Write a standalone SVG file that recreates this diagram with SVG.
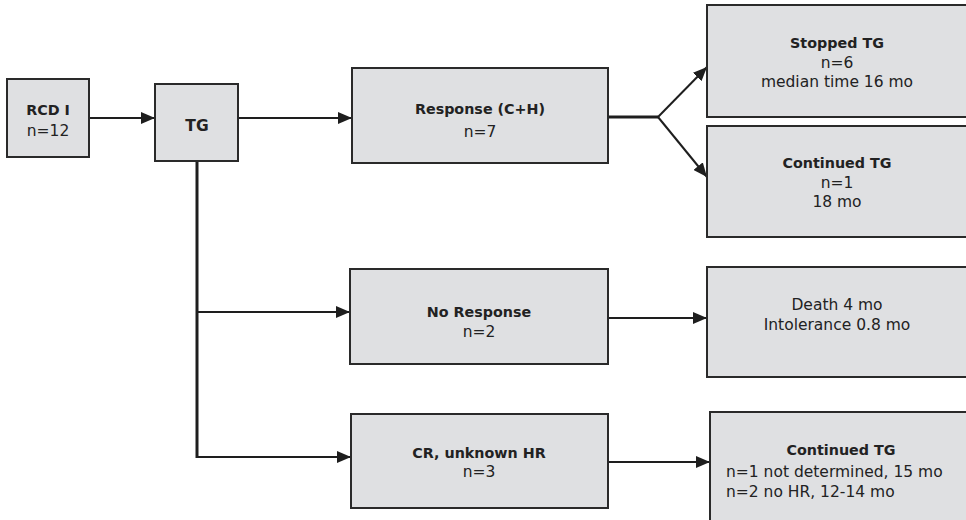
<svg xmlns="http://www.w3.org/2000/svg" width="966" height="520" viewBox="0 0 966 520">
<defs>
<marker id="ah" markerUnits="userSpaceOnUse" markerWidth="14" markerHeight="12" refX="14" refY="6" orient="auto">
<path d="M0,0 L14,6 L0,12 Z" fill="#1e1e1e"/>
</marker>
<style>
.box{fill:#dfe0e2;stroke:#2a2a2a;stroke-width:2}
.t{font-family:"DejaVu Sans",Verdana,sans-serif;font-size:15.5px;fill:#222;text-anchor:middle}
.b{font-weight:bold;font-size:14.3px}
.l{text-anchor:start}
.c{fill:none;stroke:#1e1e1e;stroke-width:2}
</style>
</defs>
<rect width="966" height="520" fill="#fff"/>
<g id="connectors">
<line class="c" x1="89" y1="118" x2="155" y2="118" marker-end="url(#ah)"/>
<line class="c" x1="238" y1="118" x2="352" y2="118" marker-end="url(#ah)"/>
<line class="c" x1="197" y1="161" x2="197" y2="458" style="stroke-width:3"/>
<line class="c" x1="196" y1="312" x2="350" y2="312" marker-end="url(#ah)"/>
<line class="c" x1="196" y1="457" x2="351" y2="457" marker-end="url(#ah)"/>
<line class="c" x1="608" y1="117" x2="658" y2="117" style="stroke-width:3"/>
<line class="c" x1="658" y1="117" x2="707" y2="67" marker-end="url(#ah)"/>
<line class="c" x1="658" y1="117" x2="707" y2="177" marker-end="url(#ah)"/>
<line class="c" x1="608" y1="318" x2="707" y2="318" marker-end="url(#ah)"/>
<line class="c" x1="608" y1="462" x2="710" y2="462" marker-end="url(#ah)"/>
</g>
<g id="rcd">
<rect class="box" x="7" y="79" width="82" height="78"/>
<text class="t b" x="48" y="115">RCD I</text>
<text class="t" x="48" y="136">n=12</text>
</g>
<g id="tg">
<rect class="box" x="155" y="84" width="83" height="77"/>
<text class="t b" x="197" y="131" style="font-size:15.5px">TG</text>
</g>
<g id="response">
<rect class="box" x="352" y="68" width="256" height="95"/>
<text class="t b" x="480" y="114">Response (C+H)</text>
<text class="t" x="480" y="137">n=7</text>
</g>
<g id="stopped">
<rect class="box" x="707" y="5" width="270" height="112"/>
<text class="t b" x="837" y="48">Stopped TG</text>
<text class="t" x="837" y="68">n=6</text>
<text class="t" x="837" y="87">median time 16 mo</text>
</g>
<g id="continued1">
<rect class="box" x="707" y="126" width="270" height="111"/>
<text class="t b" x="837" y="168">Continued TG</text>
<text class="t" x="837" y="188">n=1</text>
<text class="t" x="837" y="207">18 mo</text>
</g>
<g id="noresponse">
<rect class="box" x="350" y="269" width="258" height="95"/>
<text class="t b" x="479" y="317">No Response</text>
<text class="t" x="479" y="337">n=2</text>
</g>
<g id="death">
<rect class="box" x="707" y="267" width="270" height="110"/>
<text class="t" x="837" y="310">Death 4 mo</text>
<text class="t" x="837" y="330">Intolerance 0.8 mo</text>
</g>
<g id="cr">
<rect class="box" x="351" y="414" width="257" height="94"/>
<text class="t b" x="479" y="458">CR, unknown HR</text>
<text class="t" x="479" y="477">n=3</text>
</g>
<g id="continued2">
<rect class="box" x="710" y="412" width="270" height="120"/>
<text class="t b" x="841" y="455">Continued TG</text>
<text class="t l" x="726" y="477">n=1 not determined, 15 mo</text>
<text class="t l" x="726" y="497">n=2 no HR, 12-14 mo</text>
</g>
</svg>
